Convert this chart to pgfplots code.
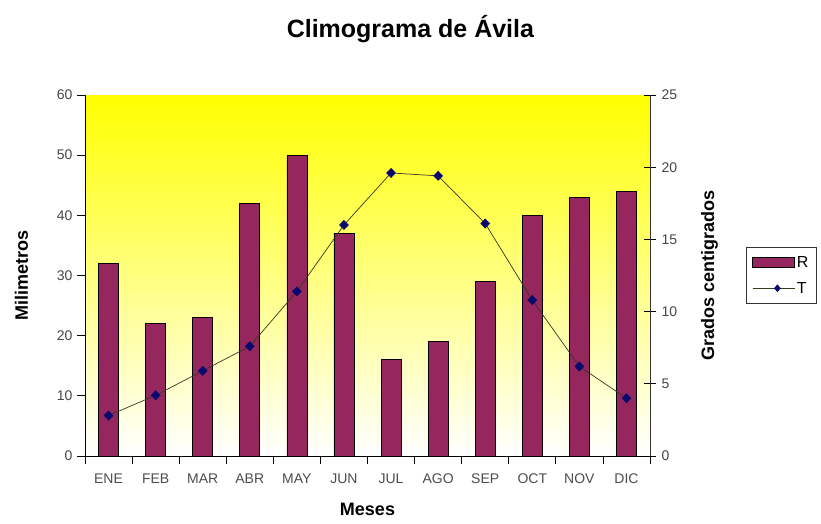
\documentclass[border=0pt]{standalone}
\usepackage{pgfplots}
\pgfplotsset{compat=1.18}
\usepackage{fontspec}
\setmainfont{Liberation Sans}
\usetikzlibrary{shadings,shapes.geometric}
\definecolor{barc}{RGB}{150,38,94}
\definecolor{navyc}{RGB}{10,10,110}
\definecolor{linec}{RGB}{55,55,35}
\definecolor{tickgray}{RGB}{70,70,70}
\pgfplotsset{/pgf/number format/assume math mode=true}

\begin{document}
\begin{tikzpicture}
\begin{axis}[
  scale only axis, width=565pt, height=361pt,
  xmin=-0.5, xmax=11.5, ymin=0, ymax=60,
  axis y line*=left, axis x line*=bottom,
  axis line style={black, line width=0.8pt},
  axis background/.style={top color=yellow, bottom color=white},
  ytick={0,10,...,60},
  ytick style={black, line width=0.8pt},
  tick align=outside, major tick length=8pt,
  xtick={-0.5,0.5,...,11.5}, xticklabels={},
  xtick style={black, line width=0.8pt},
  extra x ticks={0,1,...,11},
  extra x tick labels={ENE,FEB,MAR,ABR,MAY,JUN,JUL,AGO,SEP,OCT,NOV,DIC},
  extra x tick style={major tick length=0pt, tick style={draw=none}},
  ticklabel style={font=\fontsize{14}{16}\selectfont, text=tickgray},
  xticklabel style={yshift=-14pt, text=black!70},
  yticklabel style={xshift=-1pt},
  xlabel={\textbf{Meses}},
  xlabel style={font=\fontsize{18}{21}\selectfont, yshift=-5pt},
  ylabel={\textbf{Milimetros}},
  ylabel style={font=\fontsize{18}{21}\selectfont, yshift=22pt},
  title={\textbf{Climograma de Ávila}},
  title style={font=\fontsize{25}{29}\selectfont, at={(0.5,1)}, anchor=center, yshift=60pt, xshift=43pt},
]
\coordinate (O) at (rel axis cs:0,0);
\addplot[ybar, bar width=20pt, fill=barc, draw=black, line width=0.6pt] coordinates {
  (0,32) (1,22) (2,23) (3,42) (4,50) (5,37) (6,16) (7,19) (8,29) (9,40) (10,43) (11,44)
};
\end{axis}
\begin{axis}[
  scale only axis, width=565pt, height=361pt,
  xmin=-0.5, xmax=11.5, ymin=0, ymax=25,
  axis x line=none, axis y line*=right,
  axis line style={black!80, line width=0.8pt},
  ytick={0,5,...,25},
  ytick style={black, line width=0.8pt},
  tick align=center, major tick length=12pt,
  ticklabel style={font=\fontsize{14}{16}\selectfont, text=tickgray},
  yticklabel style={xshift=2pt},
  ylabel={\textbf{Grados centigrados}},
  ylabel style={font=\fontsize{18}{21}\selectfont, yshift=-17pt},
  legend style={at={(1,0.5)}, anchor=west, xshift=96pt, draw=black!80, fill=white,
    font=\fontsize{16}{18}\selectfont, inner xsep=6pt, inner ysep=7pt, row sep=9pt},
  legend cell align=left,
]
\addlegendimage{legend image code/.code={\draw[fill=barc, draw=black, line width=0.5pt] (0pt,-5pt) rectangle (42pt,5pt);}}
\addlegendentry{R}
\addplot[color=linec, line width=0.7pt, mark=diamond*, mark size=4.5pt,
  mark options={fill=navyc, draw=navyc, xscale=1.3},
  legend image code/.code={\draw[color=linec, line width=0.7pt] (0pt,0pt) -- (42pt,0pt);
    \path (21pt,0pt) node[diamond, fill=navyc, inner sep=0pt, minimum width=7pt, minimum height=8pt] {};}] coordinates {
  (0,2.8) (1,4.2) (2,5.9) (3,7.6) (4,11.4) (5,16.0) (6,19.6) (7,19.4) (8,16.1) (9,10.8) (10,6.2) (11,4.0)
};
\addlegendentry{T}
\end{axis}
\pgfresetboundingbox
\path ([shift={(-85pt,-68pt)}]O) rectangle ([shift={(736pt,456pt)}]O);
\end{tikzpicture}
\end{document}
